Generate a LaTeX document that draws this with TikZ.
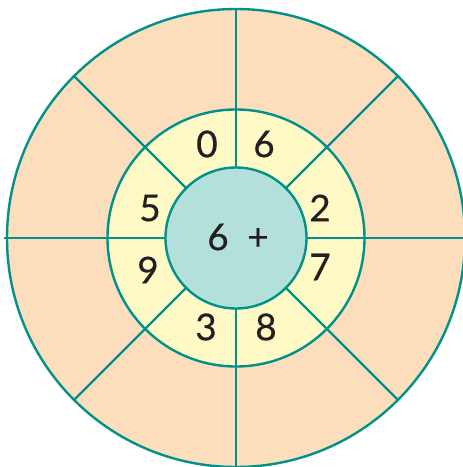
\documentclass[tikz,border=0pt]{standalone}
\usepackage{fontspec}
\setmainfont{Lato}[FakeBold=0.4]
\definecolor{ring}{HTML}{00928A}
\definecolor{peach}{HTML}{FCDDBC}
\definecolor{cream}{HTML}{FFF9C6}
\definecolor{mint}{HTML}{B4E0DB}
\definecolor{ink}{HTML}{231F20}
\tikzset{
  spoke/.style={draw=ring, line width=2.4pt},
  digit/.style={text=ink, font=\fontsize{37}{42}\selectfont, inner sep=0pt},
}
\begin{document}
\begin{tikzpicture}[x=1pt,y=1pt]
\useasboundingbox (-236,-229) rectangle (227,238);
\clip (-236,-229) rectangle (227,238);
\coordinate (c) at (0,0);
\fill[white] (-236,-229) rectangle (227,238);
\draw[spoke, fill=peach] (c) circle (229);
\draw[spoke, fill=cream] (c) circle (128.5);
\foreach \a in {0,45,...,315} {
  \coordinate (o\a) at (\a:229);
  \coordinate (i\a) at (\a:70.5);
  \draw[spoke] (i\a) -- (o\a);
}
\draw[spoke] (0:70.5) -- (0:232);
\draw[spoke] (180:70.5) -- (180:232);
\node[circle, draw=ring, line width=2.4pt, fill=mint, minimum size=141pt, inner sep=0pt] (hub) at (c) {};
\node[digit] (n0) at (-29,94) {0};
\node[digit] (n6) at (28,94) {6};
\node[digit] (n5) at (-86,30) {5};
\node[digit] (n2) at (84,30) {2};
\node[digit] (n9) at (-88,-32) {9};
\node[digit] (n7) at (84,-29) {7};
\node[digit] (n3) at (-30,-89) {3};
\node[digit] (n8) at (30,-89) {8};
\node[digit] (centre6) at (-18,1) {6};
\node[digit] (plus) at (22,-1) {+};
\end{tikzpicture}
\end{document}
